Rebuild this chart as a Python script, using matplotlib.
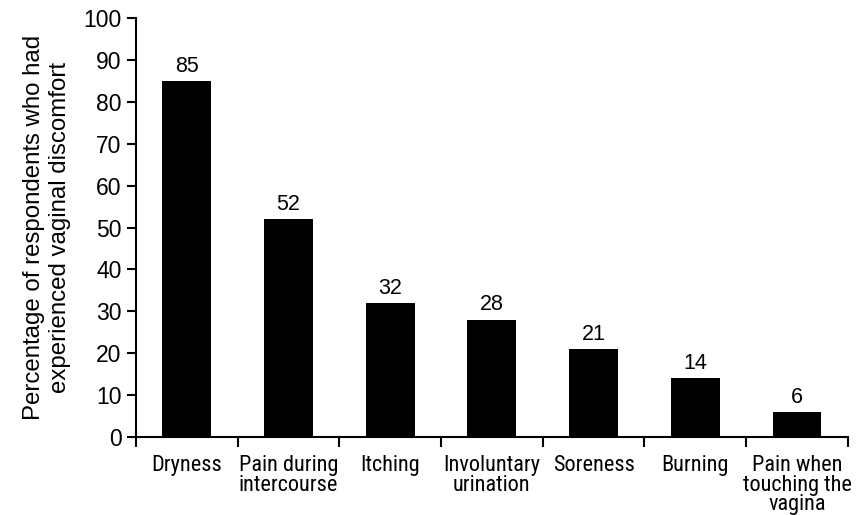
import matplotlib
matplotlib.use("Agg")
import matplotlib.pyplot as plt
import numpy as np
from matplotlib import font_manager

names = {f.name for f in font_manager.fontManager.ttflist}
narrow = "DejaVu Sans"
for cand in ["Liberation Sans Narrow", "Roboto Condensed", "Archivo Narrow", "PT Sans Narrow",
             "Encode Sans Condensed"]:
    if cand in names:
        narrow = cand
        break

categories = ["Dryness", "Pain during\nintercourse", "Itching", "Involuntary\nurination",
              "Soreness", "Burning", "Pain when\ntouching the\nvagina"]
values = [85, 52, 32, 28, 21, 14, 6]
yticks = [0, 10, 20, 30, 40, 50, 60, 70, 80, 90, 100]
ylabel = "Percentage of respondents who had\nexperienced vaginal discomfort"

fig = plt.figure(figsize=(8.66, 5.15), dpi=100)
ax = fig.add_axes([0.157, 0.1515, 0.822, 0.8135])

x = np.arange(len(categories))
ax.bar(x, values, width=0.48, color="black")
for xi, v in zip(x, values):
    ax.text(xi, v + 1.0, str(v), ha="center", va="bottom", fontsize=15.5, family="Liberation Sans")

ax.set_xlim(-0.5, len(categories) - 0.5)
ax.set_ylim(0, 100)
ax.set_yticks(yticks)
ax.set_yticklabels([str(t) for t in yticks], fontsize=16.5, family="Liberation Sans")
ax.set_xticks(x)
ax.set_xticklabels(categories, fontsize=16, family=narrow, linespacing=0.92)
ax.set_xticks(np.arange(-0.5, len(categories)), minor=True)
ax.tick_params(axis="x", which="major", length=0, pad=13)
ax.tick_params(axis="x", which="minor", length=7.5, width=1.5, direction="out")
ax.tick_params(axis="y", length=6.5, width=1.5, direction="out", pad=4)
ax.set_ylabel(ylabel, fontsize=17.3, family="Liberation Sans", linespacing=1.2, labelpad=9)

for s in ["top", "right"]:
    ax.spines[s].set_visible(False)
for s in ["left", "bottom"]:
    ax.spines[s].set_linewidth(1.5)

fig.savefig("out.png", dpi=100)
